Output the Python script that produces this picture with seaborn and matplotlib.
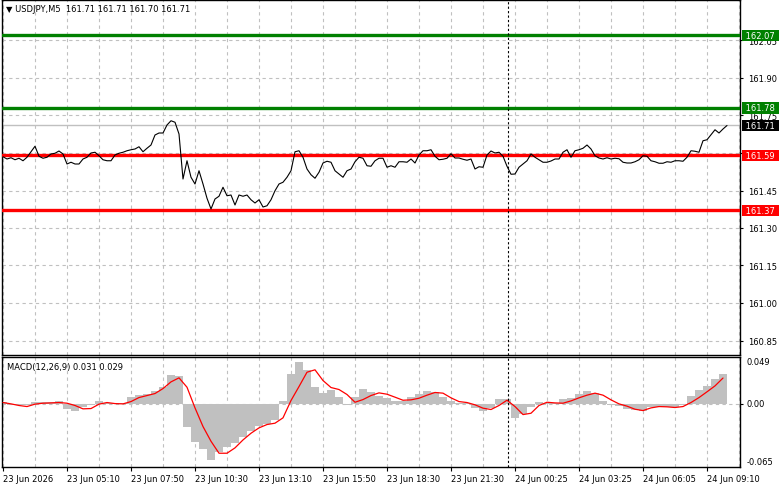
import numpy as np
import pandas as pd
import matplotlib
matplotlib.use("Agg")
import matplotlib.pyplot as plt
import seaborn as sns

# USDJPY M5 closes, one value every 2 bars
close_prices = [
    161.585, 161.576, 161.581, 161.573, 161.579, 161.569, 161.583, 161.605, 161.627, 161.587,
    161.579, 161.583, 161.596, 161.599, 161.608, 161.596, 161.556, 161.563, 161.556, 161.556,
    161.576, 161.583, 161.600, 161.603, 161.589, 161.573, 161.569, 161.569, 161.592, 161.599,
    161.603, 161.609, 161.613, 161.616, 161.625, 161.605, 161.619, 161.632, 161.672, 161.680,
    161.680, 161.712, 161.729, 161.723, 161.676, 161.496, 161.569, 161.503, 161.476, 161.529,
    161.476, 161.419, 161.376, 161.416, 161.427, 161.463, 161.429, 161.432, 161.392, 161.432,
    161.427, 161.432,
    161.413, 161.400, 161.413, 161.384, 161.389, 161.413, 161.449, 161.476, 161.483, 161.503,
    161.529, 161.605, 161.609, 161.583, 161.536, 161.513, 161.499, 161.523, 161.560, 161.567,
    161.563, 161.529, 161.516, 161.503, 161.529, 161.536, 161.565, 161.583, 161.579, 161.549,
    161.547, 161.569, 161.579, 161.579, 161.543, 161.549, 161.543, 161.565, 161.565, 161.563,
    161.576, 161.560, 161.592, 161.609, 161.609, 161.613, 161.587, 161.573, 161.575, 161.579,
    161.597, 161.580, 161.580, 161.575, 161.571, 161.576, 161.536, 161.545, 161.543, 161.592,
    161.608,
    161.600, 161.603, 161.587, 161.547, 161.515, 161.516, 161.543, 161.556, 161.569, 161.596,
    161.583, 161.573, 161.563, 161.563, 161.568, 161.576, 161.576, 161.603, 161.613, 161.583,
    161.609, 161.613, 161.619, 161.632, 161.616, 161.589, 161.580, 161.576, 161.581, 161.576,
    161.579, 161.577, 161.563, 161.560, 161.560, 161.565, 161.573, 161.589, 161.587, 161.569,
    161.565, 161.559, 161.559, 161.565, 161.563, 161.569, 161.569, 161.567, 161.583, 161.609,
    161.607, 161.603, 161.649, 161.653, 161.673, 161.693, 161.680, 161.696, 161.710,
]

# MACD(12,26,9), one value every 4 bars
macd_hist = [
    0.0017, -0.0007, -0.0017, -0.0017, 0.0017, 0.0017, 0.0017, 0.0035, -0.0052, -0.0077,
    -0.0028, -0.0017, 0.0035, 0.0007, 0.0007, 0.0007, 0.0070, 0.0091, 0.0105, 0.0139,
    0.0181, 0.0307, 0.0293, -0.0244, -0.0401, -0.0471, -0.0586, -0.0506, -0.0446, -0.0411,
    -0.0349, -0.0279, -0.0227, -0.0209, -0.0167, 0.0035, 0.0314, 0.0436, 0.0349, 0.0174,
    0.0112, 0.0146, 0.0070, -0.0007, 0.0077, 0.0157, 0.0122, 0.0087, 0.0063, 0.0028,
    0.0035, 0.0070, 0.0105, 0.0132, 0.0122, 0.0077, 0.0028, 0.0007, 0.0007, -0.0042,
    -0.0077, -0.0042, 0.0052, 0.0052, -0.0146, -0.0105, -0.0035, 0.0017, 0.0007, 0.0007,
    0.0052, 0.0063, 0.0098, 0.0132, 0.0112, 0.0035, -0.0007, -0.0021, -0.0052, -0.0063,
    -0.0070, -0.0035, -0.0028, -0.0028, -0.0028, -0.0017, 0.0087, 0.0146, 0.0192, 0.0262,
    0.0310,
]
macd_signal = [
    0.0014, 0.0000, -0.0017, -0.0028, -0.0003, 0.0007, 0.0010, 0.0014, 0.0007, -0.0017,
    -0.0052, -0.0049, -0.0003, 0.0014, 0.0003, 0.0000, 0.0024, 0.0066, 0.0087, 0.0108,
    0.0160, 0.0230, 0.0272, 0.0174, -0.0042, -0.0237, -0.0391, -0.0516, -0.0516, -0.0460,
    -0.0377, -0.0307, -0.0251, -0.0216, -0.0202, -0.0146, 0.0035, 0.0181, 0.0331, 0.0356,
    0.0244, 0.0171, 0.0150, 0.0098, 0.0017, 0.0045, 0.0087, 0.0115, 0.0101, 0.0070,
    0.0038, 0.0042, 0.0059, 0.0091, 0.0119, 0.0112, 0.0063, 0.0024, 0.0014, -0.0010,
    -0.0045, -0.0059, -0.0017, 0.0038, -0.0028, -0.0112, -0.0098, -0.0017, 0.0017, 0.0010,
    0.0007, 0.0031, 0.0063, 0.0091, 0.0112, 0.0091, 0.0042, 0.0000, -0.0024, -0.0056,
    -0.0070, -0.0042, -0.0028, -0.0031, -0.0038, -0.0028, 0.0014, 0.0066, 0.0126, 0.0188,
    0.0270,
]

time_labels = ["23 Jun 2026", "23 Jun 05:10", "23 Jun 07:50", "23 Jun 10:30",
               "23 Jun 13:10", "23 Jun 15:50", "23 Jun 18:30", "23 Jun 21:30",
               "24 Jun 00:25", "24 Jun 03:25", "24 Jun 06:05", "24 Jun 09:10"]
price_ticks = [160.85, 161.00, 161.15, 161.30, 161.45, 161.60, 161.75, 161.90, 162.05]
hidden_ticks = [161.60]   # covered by the 161.59 tag on the chart
resistance_levels = [162.07, 161.78]
support_levels = [161.59, 161.37]
last_price = 161.71
macd_labels = [0.049, 0.0, -0.065]

sns.set_theme(style="white")
plt.rcParams['font.family'] = ['DejaVu Sans']

W, H = 781, 489
fig = plt.figure(figsize=(W / 100, H / 100), dpi=100)
ax = fig.add_axes([2 / W, 1 - 356 / H, 738 / W, 355 / H])
ax2 = fig.add_axes([2 / W, 1 - 468 / H, 738 / W, 110 / H], sharex=ax)

price_df = pd.DataFrame({'bar': np.arange(len(close_prices)) * 2, 'close': close_prices})
macd_df = pd.DataFrame({'bar': np.arange(len(macd_hist)) * 4,
                        'hist': macd_hist, 'signal': macd_signal})

grid_kw = dict(color='#C0C0C0', linewidth=0.8, linestyle=(0, (3, 3)))
fs = 6

# ---- price pane ----
ax.set_axisbelow(True)
for y in resistance_levels:
    ax.axhline(y, color='#008000', lw=2.4, zorder=3)
for y in support_levels:
    ax.axhline(y, color='#FF0000', lw=2.4, zorder=3)
ax.axhline(last_price, color='#C0C0C0', lw=1, zorder=2)
sns.lineplot(data=price_df, x='bar', y='close', ax=ax, color='black', lw=0.8, zorder=4)
ax.axvline(252.5, color='black', lw=0.8, ls=(0, (2, 2)), zorder=5)

ax.set_ylim(160.792, 162.212)
ax.yaxis.tick_right()
ax.set_yticks(price_ticks)
ax.set_yticklabels(['' if v in hidden_ticks else f"{v:.2f}" for v in price_ticks])
ax.tick_params(axis='y', length=2.5, pad=3, labelsize=fs, colors='black', width=0.8)
ax.tick_params(axis='x', which='both', bottom=False, labelbottom=False)
ax.grid(True, axis='y', **grid_kw)
ax.grid(True, axis='x', which='both', **grid_kw)
ax.set_xlabel('')
ax.set_ylabel('')


def price_tag(axis, y, color):
    axis.annotate(f" {y:.2f} ", xy=(1, y), xycoords=('axes fraction', 'data'),
                  xytext=(2.2, 0), textcoords='offset points', ha='left', va='center',
                  fontsize=fs, color='white', annotation_clip=False, zorder=10,
                  bbox=dict(boxstyle='square,pad=0.15', fc=color, ec='none'))


for y in resistance_levels:
    price_tag(ax, y, '#008000')
for y in support_levels:
    price_tag(ax, y, '#FF0000')
price_tag(ax, last_price, 'black')

fig.text(6 / W, 1 - 10 / H, "\u25bc USDJPY,M5  161.71 161.71 161.70 161.71",
         fontsize=fs, va='center', color='black')

# ---- MACD pane ----
ax2.set_axisbelow(True)
ax2.bar(macd_df['bar'], macd_df['hist'], width=4, color='#C0C0C0', lw=0, zorder=2)
sns.lineplot(data=macd_df, x='bar', y='signal', ax=ax2, color='#FF0000', lw=0.9, zorder=3)
ax2.axvline(252.5, color='black', lw=0.8, ls=(0, (2, 2)), zorder=5)

ax2.set_ylim(-0.066, 0.049)
ax2.yaxis.tick_right()
ax2.set_yticks([0.0])
ax2.set_yticklabels([''])
ax2.tick_params(axis='y', length=2.5, width=0.8, colors='black')
ax2.grid(True, axis='y', **grid_kw)
ax2.grid(True, axis='x', which='both', **grid_kw)
for v in macd_labels:
    va = 'top' if v > 0 else ('bottom' if v < 0 else 'center')
    ax2.annotate(f"{v:.3f}" if v != 0 else "0.00", xy=(1, v),
                 xycoords=('axes fraction', 'data'), xytext=(4.5, 0),
                 textcoords='offset points', ha='left', va=va, fontsize=fs,
                 color='black', annotation_clip=False)
ax2.text(0.007, 0.91, "MACD(12,26,9) 0.031 0.029", transform=ax2.transAxes,
         fontsize=fs, va='center', color='black')

ax2.set_xlim(-0.5, 368.5)
ax2.set_xticks(range(0, 353, 32))
ax2.set_xticks(range(16, 369, 32), minor=True)
ax2.set_xticklabels(time_labels, ha='left')
ax2.tick_params(axis='x', which='major', length=3, pad=2, labelsize=fs,
                colors='black', width=0.8, direction='out', bottom=True)
ax2.tick_params(axis='x', which='minor', length=0)
ax2.set_xlabel('')
ax2.set_ylabel('')

for a in (ax, ax2):
    for s in a.spines.values():
        s.set_color('black')
        s.set_linewidth(1.0)
    leg = a.get_legend()
    if leg:
        leg.remove()

fig.savefig('out.png', dpi=100)
